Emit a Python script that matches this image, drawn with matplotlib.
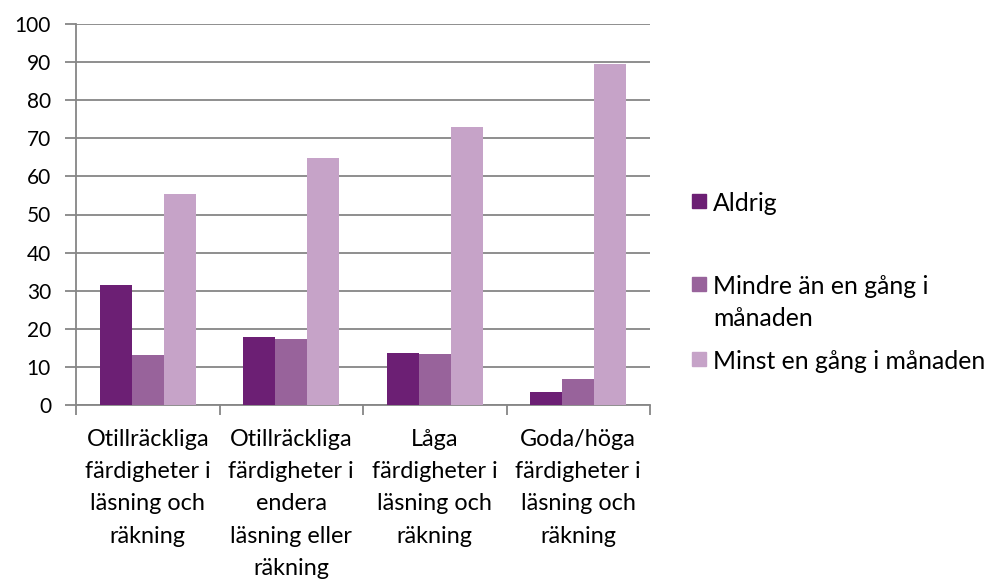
import numpy as np
import matplotlib.pyplot as plt
from matplotlib.patches import Rectangle

plt.rcParams['font.family'] = ['Lato', 'DejaVu Sans']

categories = ['Otillräckliga\nfärdigheter i\nläsning och\nräkning',
              'Otillräckliga\nfärdigheter i\nendera\nläsning eller\nräkning',
              'Låga\nfärdigheter i\nläsning och\nräkning',
              'Goda/höga\nfärdigheter i\nläsning och\nräkning']
series = ['Aldrig', 'Mindre än en gång i\nmånaden', 'Minst en gång i månaden']
aldrig = [31.5, 17.9, 13.6, 3.4]
mindre = [13.1, 17.2, 13.4, 6.8]
minst = [55.3, 64.8, 73.0, 89.4]
colors = ['#6c1f74', '#98639b', '#c6a3c8']

grid_col = '#868686'

fig = plt.figure(figsize=(9.88, 5.81), dpi=100)
ax = fig.add_axes([76 / 988, 1 - 405 / 581, 574 / 988, 381 / 581])

x = np.arange(len(categories))
w = 1 / 4.5
for i, vals in enumerate([aldrig, mindre, minst]):
    ax.bar(x + (i - 1) * w, vals, width=w, color=colors[i], zorder=3)

ax.set_xlim(-0.5, 3.5)
ax.set_ylim(0, 100)
ax.set_yticks(np.arange(0, 101, 10))
ax.yaxis.grid(True, color=grid_col, linewidth=1.3, zorder=0)
ax.tick_params(axis='y', length=8, width=1.3, color=grid_col, pad=10, labelsize=15)

ax.set_xticks(x)
ax.set_xticklabels(categories, fontsize=16.8, linespacing=1.67, va='top')
ax.tick_params(axis='x', which='major', length=0, pad=17)
ax.set_xticks(np.arange(-0.5, 4, 1), minor=True)
ax.tick_params(axis='x', which='minor', length=7, width=1.3, color=grid_col)

for side in ['top', 'right']:
    ax.spines[side].set_visible(False)
for side in ['left', 'bottom']:
    ax.spines[side].set_color(grid_col)
    ax.spines[side].set_linewidth(1.3)

# legend, drawn by hand so the wrapped entry lines up with its first line
leg_y = [201, 284, 359]
for i, name in enumerate(series):
    yy = 1 - leg_y[i] / 581
    fig.patches.append(Rectangle((692 / 988, yy - 7 / 581), 14 / 988, 14 / 581,
                                 transform=fig.transFigure, color=colors[i]))
    fig.text(713 / 988, yy + 9 / 581, name, fontsize=17.8, va='top', ha='left',
             linespacing=1.45)

fig.savefig('out.png', dpi=100)
